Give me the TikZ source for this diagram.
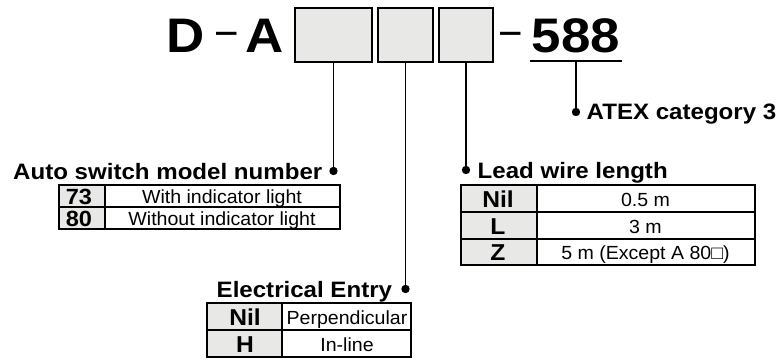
\documentclass[tikz,border=0pt]{standalone}
\usepackage{fontspec}
\setmainfont{Liberation Sans}
\newfontfamily\bigfont[FakeStretch=1.09]{Liberation Sans}
\newfontfamily\headfont[FakeStretch=1.08]{Liberation Sans}
\newfontfamily\keyfont[FakeStretch=1.07]{Liberation Sans}
\newfontfamily\cellfont[FakeStretch=1.03]{Liberation Sans}
\definecolor{gfill}{RGB}{232,233,231}
\begin{document}
\begin{tikzpicture}[x=1pt,y=-1pt,
  big/.style={font=\bigfont\fontsize{48.5}{52}\selectfont\bfseries, inner sep=0pt},
  dashtxt/.style={font=\fontsize{46}{48}\selectfont, inner sep=0pt, xscale=0.8},
  head/.style={font=\headfont\fontsize{22.3}{26}\selectfont\bfseries, inner sep=0pt},
  cell/.style={font=\cellfont\fontsize{19}{22}\selectfont, inner sep=0pt, anchor=base},
  keycell/.style={font=\keyfont\fontsize{23}{25}\selectfont\bfseries, inner sep=0pt, anchor=base},
  keycellA/.style={font=\keyfont\fontsize{22}{25}\selectfont\bfseries, inner sep=0pt, anchor=base},
  gbox/.style={draw, line width=1.8pt, fill=gfill, inner sep=0pt},
  conn/.style={line width=1.8pt},
  outer/.style={line width=1.8pt},
  inner/.style={line width=1.1pt},
  dot/.style={fill=black}]
\useasboundingbox (0,0) rectangle (779,361);

% ---- top code ----
\node[big, anchor=base] (D) at (186,53) {D};
\node[dashtxt, anchor=base] (dash1) at (226.5,45.5) {\textendash};
\node[big, anchor=base] (A) at (265,53) {A};
\node[gbox, minimum width=77pt, minimum height=54pt] (b1) at (333.5,35) {};
\node[gbox, minimum width=55pt, minimum height=54pt] (b2) at (405.5,35) {};
\node[gbox, minimum width=54pt, minimum height=54pt] (b3) at (466,35) {};
\node[dashtxt, anchor=base] (dash2) at (511,45.5) {\textendash};
\node[big, anchor=base] (n588) at (576,53) {588};
\coordinate (u1) at (530,61);
\coordinate (u2) at (621.5,61);
\coordinate (u0) at (576,61);
\draw[line width=2.2pt] (u1) -- (u2);

% ---- connector dots ----
\coordinate (dA) at (333.5,171);
\coordinate (dE) at (405.5,289);
\coordinate (dL) at (466,170);
\coordinate (dX) at (576,112);
\draw[conn] (b1.south) -- (dA);
\draw[conn] (b2.south) -- (dE);
\draw[conn] (b3.south) -- (dL);
\draw[conn] (u0) -- (dX);
\foreach \d in {dA,dE,dL,dX} \fill[dot] (\d) circle[radius=4.2pt];

% ---- headings ----
\node[head, anchor=base east] (hA) at (322.5,179.5) {Auto switch model number};
\node[head, anchor=base west] (hX) at (586.5,119) {ATEX category 3};
\node[head, anchor=base west] (hL) at (477.5,178) {Lead wire length};
\node[head, anchor=base west] (hE) at (216.5,297) {Electrical Entry};

% ---- table: auto switch ----
\fill[gfill] (59,185) rectangle (105,229);
\draw[inner] (59,207) -- (340,207);
\draw[inner] (105,185) -- (105,229);
\draw[outer] (59,185) rectangle (340,229);
\node[keycellA] (a1k) at (79,204) {73};
\node[cell] (a1v) at (222,203.5) {With indicator light};
\node[keycellA] (a2k) at (79,226.5) {80};
\node[cell] (a2v) at (222,225.5) {Without indicator light};

% ---- table: lead wire ----
\fill[gfill] (461,185) rectangle (537,265);
\draw[inner] (461,212) -- (755,212);
\draw[inner] (461,239) -- (755,239);
\draw[inner] (537,185) -- (537,265);
\draw[outer] (461,185) rectangle (755,265);
\node[keycell] (l1k) at (498,207) {Nil};
\node[cell] (l1v) at (645.5,206) {0.5 m};
\node[keycell] (l2k) at (498,234) {L};
\node[cell] (l2v) at (645.5,233) {3 m};
\node[keycell] (l3k) at (498,260.5) {Z};
\node[cell] (l3v) at (645.5,259.5) {5 m (Except A 80□)};

% ---- table: electrical entry ----
\fill[gfill] (207,303) rectangle (282,357);
\draw[inner] (207,330) -- (411,330);
\draw[inner] (282,303) -- (282,357);
\draw[outer] (207,303) rectangle (411,357);
\node[keycell] (e1k) at (245,325) {Nil};
\node[cell] (e1v) at (347,324) {Perpendicular};
\node[keycell] (e2k) at (245,352) {H};
\node[cell] (e2v) at (347,351) {In-line};
\end{tikzpicture}
\end{document}
